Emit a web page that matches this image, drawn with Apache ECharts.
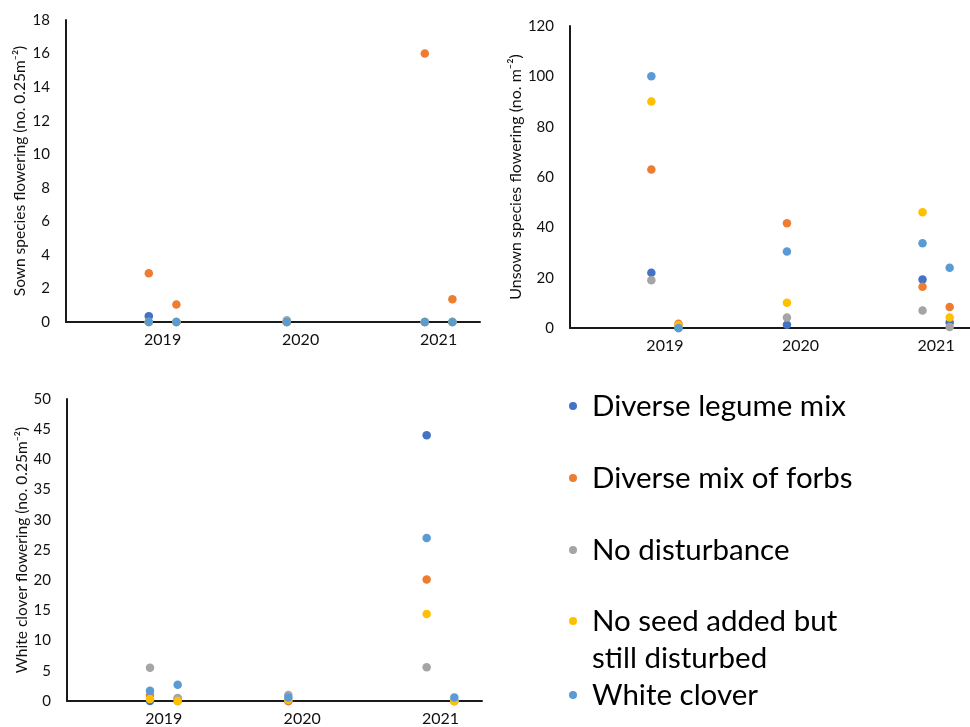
<!DOCTYPE html>
<html><head><meta charset="utf-8">
<script src="https://cdn.jsdelivr.net/npm/echarts@6/dist/echarts.min.js"></script>
<style>html,body{margin:0;padding:0;background:#fff}#c{width:970px;height:727px}</style>
</head><body><div id="c"></div>
<script>
// ---- data ----
const treatments = ['Diverse legume mix', 'Diverse mix of forbs', 'No disturbance', 'No seed added but still disturbed', 'White clover'];
const colors = ['#4472C4', '#ED7D31', '#A5A5A5', '#FFC000', '#5B9BD5'];
const yearTicks = [2019, 2020, 2021];
// sampling occasions (fractional year): two in 2019, one in 2020, two in 2021
const samplingTimes = [2018.9, 2019.1, 2019.9, 2020.9, 2021.1];

// Sown species flowering (no. 0.25 m-2)
const sownLegume  = [0.35, 0, 0, 0, 0];
const sownForbs   = [2.9, 1.05, 0, 16, 1.35];
const sownNoDist  = [0, 0, 0.1, 0, 0];
const sownNoSeed  = [0, 0, 0, 0, 0];
const sownClover  = [0, 0, 0, 0, 0];

// Unsown species flowering (no. m-2)
const unsownLegume = [22, 0, 1.3, 19.3, 2.2];
const unsownForbs  = [63, 1.7, 41.6, 16.4, 8.3];
const unsownNoDist = [19, 0.8, 4.2, 7, 0.4];
const unsownNoSeed = [90, 1.2, 10, 46, 4.2];
const unsownClover = [100, 0, 30.4, 33.7, 23.9];

// White clover flowering (no. 0.25 m-2)
const cloverLegume = [0, 0, 0, 44, 0];
const cloverForbs  = [1.0, 0.4, 0, 20.1, 0];
const cloverNoDist = [5.5, 0.5, 1.0, 5.6, 0];
const cloverNoSeed = [0.33, 0, 0.2, 14.4, 0];
const cloverClover = [1.7, 2.7, 0.6, 27, 0.6];

const panels = [
  {name: 'Sown species flowering (no. 0.25m\u207B\u00B2)', max: 18, interval: 2,
   values: [sownLegume, sownForbs, sownNoDist, sownNoSeed, sownClover]},
  {name: 'Unsown species flowering (no. m\u207B\u00B2)', max: 120, interval: 20,
   values: [unsownLegume, unsownForbs, unsownNoDist, unsownNoSeed, unsownClover]},
  {name: 'White clover flowering (no. 0.25m\u207B\u00B2)', max: 50, interval: 5,
   values: [cloverLegume, cloverForbs, cloverNoDist, cloverNoSeed, cloverClover]}
];

// ---- layout ----
const FONT = 'Lato';
const grids = [
  {left: 66, top: 20, right: 490, bottom: 405},
  {left: 570, top: 26, right: 0, bottom: 399},
  {left: 67, top: 399, right: 488, bottom: 26}
];
const xMax = [2021.3, 2021.25, 2021.3];
const nameGaps = [38, 45, 36];
const nameSizes = [15.5, 16, 15.5];

const axisLine = {show: true, lineStyle: {color: '#1a1a1a', width: 2}};
const xAxis = grids.map((g, i) => ({
  type: 'value', gridIndex: i, min: 2018.3, max: xMax[i],
  axisLine: axisLine, axisTick: {show: false}, splitLine: {show: false},
  axisLabel: {customValues: yearTicks, formatter: v => String(v), color: '#111',
              fontFamily: FONT, fontSize: 16, margin: 10}
}));
const yAxis = panels.map((p, i) => ({
  type: 'value', gridIndex: i, min: 0, max: p.max, interval: p.interval,
  axisLine: axisLine, axisTick: {show: false}, splitLine: {show: false},
  axisLabel: {color: '#111', fontFamily: FONT, fontSize: 15, margin: 16},
  name: p.name, nameLocation: 'middle', nameGap: nameGaps[i], nameRotate: 90,
  nameTextStyle: {color: '#111', fontFamily: FONT, fontSize: nameSizes[i]}
}));

const series = [];
panels.forEach((p, k) => {
  p.values.forEach((vals, i) => {
    series.push({
      type: 'scatter', name: treatments[i], xAxisIndex: k, yAxisIndex: k,
      symbol: 'circle', symbolSize: 8.5,
      itemStyle: {color: colors[i], opacity: 1},
      emphasis: {disabled: true},
      data: samplingTimes.map((t, j) => [t, vals[j]]).filter(d => d[1] !== null)
    });
  });
});

// legend: one component per treatment so the wrapped label keeps its dot on the first line
const legendTops = [387.5, 459.5, 531.5, 565.5, 676.5];
const legend = treatments.map((t, i) => ({
  data: [t], left: 569, top: legendTops[i], orient: 'vertical', padding: 0,
  icon: 'circle', itemWidth: 8, itemHeight: 8, selectedMode: false,
  formatter: name => name === treatments[3] ? '\nNo seed added but\nstill disturbed' : name,
  textStyle: {fontFamily: FONT, fontSize: 29.5, color: '#000', lineHeight: 37,
              padding: [0, 0, 0, 10]}
}));

const chart = echarts.init(document.getElementById('c'), null, {renderer: 'canvas'});
chart.setOption({
  backgroundColor: '#fff',
  animation: false,
  grid: grids.map(g => Object.assign({containLabel: false}, g)),
  xAxis: xAxis, yAxis: yAxis, legend: legend, series: series
});
</script></body></html>
